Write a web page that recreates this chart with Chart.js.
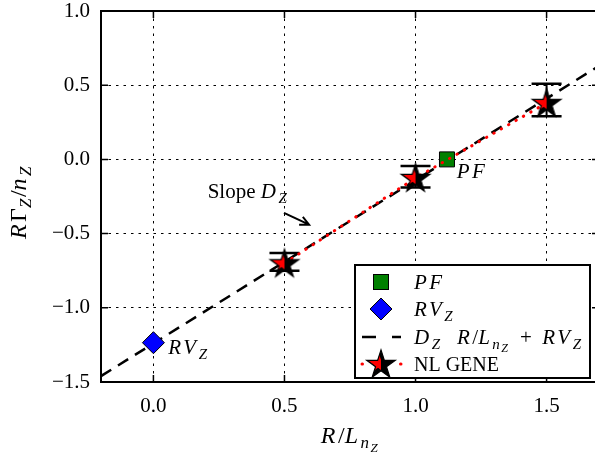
<!DOCTYPE html>
<html>
<head>
<meta charset="utf-8">
<script src="https://cdn.jsdelivr.net/npm/chart.js@4/dist/chart.umd.min.js"></script>
<style>
  html, body { margin: 0; padding: 0; overflow: hidden; background: #fff; }
  #wrap { width: 600px; height: 454px; position: relative; }
</style>
</head>
<body>
<div id="wrap"><canvas id="myChart"></canvas></div>
<script>
// axis ticks
const xTicks = [0, 0.5, 1.0, 1.5];
const yTicks = [-1.5, -1.0, -0.5, 0, 0.5, 1.0];
// D_Z R/L_nZ + RV_Z fit (read at the plot edges)
const fitX = [-0.2, 1.7];
const fitY = [-1.46, 0.63];
// NL GENE runs with error bars
const geneX = [0.5, 1.0, 1.5];
const geneY = [-0.70, -0.125, 0.38];
const geneLo = [-0.75, -0.19, 0.29];
const geneHi = [-0.63, -0.045, 0.51];
// PF and RV_Z points
const pfX = [1.12];
const pfY = [0.0];
const rvX = [0.0];
const rvY = [-1.235];

const SERIF = '"Liberation Serif", "DejaVu Serif", serif';

function makeStar(R) {
  const s = Math.ceil(R * 2 + 6);
  const c = document.createElement('canvas');
  c.width = s; c.height = s;
  const g = c.getContext('2d');
  const cx = s / 2, cy = s / 2 + 1;
  const starPath = (x0, y0, r0) => {
    const p = new Path2D();
    for (let i = 0; i < 10; i++) {
      const r = i % 2 ? r0 * 0.382 : r0;
      const a = -Math.PI / 2 + i * Math.PI / 5;
      const px = x0 + r * Math.cos(a), py = y0 + r * Math.sin(a);
      if (i) p.lineTo(px, py); else p.moveTo(px, py);
    }
    p.closePath();
    return p;
  };
  const big = starPath(cx, cy, R);
  g.fillStyle = '#000';
  g.fill(big);
  g.save();
  g.clip(big);
  g.beginPath();
  g.rect(0, 0, cx, s);
  g.clip();
  g.fillStyle = '#ff0000';
  g.fill(starPath(cx - 3, cy - 2, R * 0.82));
  g.restore();
  g.lineWidth = 1.2;
  g.strokeStyle = '#000';
  g.stroke(big);
  return c;
}
const starImg = makeStar(15);

// rich text: parts = [text, kind] kind: r roman, i italic, s italic sub, ss italic subsub
function fontFor(k, size) {
  if (k === 'r') return size + 'px ' + SERIF;
  if (k === 'i') return 'italic ' + size + 'px ' + SERIF;
  if (k === 's') return 'italic ' + Math.round(size * 0.7) + 'px ' + SERIF;
  return 'italic ' + Math.round(size * 0.55) + 'px ' + SERIF;
}
function spacingFor(k) {
  return k === 'r' ? '0px' : (k === 'i' ? '2.5px' : '1.5px');
}
function richWidth(ctx, parts, size) {
  let w = 0;
  for (const [t, k] of parts) {
    ctx.font = fontFor(k, size);
    ctx.letterSpacing = spacingFor(k);
    w += ctx.measureText(t).width;
  }
  return w;
}
function drawRich(ctx, parts, x, y, size, align) {
  const w = richWidth(ctx, parts, size);
  let px = align === 'center' ? x - w / 2 : x;
  ctx.textBaseline = 'alphabetic';
  ctx.textAlign = 'left';
  ctx.fillStyle = '#000';
  for (const [t, k] of parts) {
    ctx.font = fontFor(k, size);
    ctx.letterSpacing = spacingFor(k);
    const dy = k === 's' ? size * 0.22 : (k === 'ss' ? size * 0.36 : 0);
    ctx.fillText(t, px, y + dy);
    px += ctx.measureText(t).width;
  }
  ctx.letterSpacing = '0px';
}

function fmt(v) {
  return (v < 0 ? '\u2212' : '') + Math.abs(v).toFixed(1);
}

const deco = {
  id: 'deco',
  beforeDatasetsDraw(chart) {
    const ctx = chart.ctx, xs = chart.scales.x, ys = chart.scales.y;
    ctx.save();
    ctx.strokeStyle = '#000';
    for (let i = 0; i < geneX.length; i++) {
      const px = xs.getPixelForValue(geneX[i]);
      const lo = ys.getPixelForValue(geneLo[i]);
      const hi = ys.getPixelForValue(geneHi[i]);
      ctx.lineWidth = 2;
      ctx.beginPath();
      ctx.moveTo(px, lo); ctx.lineTo(px, hi);
      ctx.stroke();
      ctx.lineWidth = 2.5;
      ctx.beginPath();
      ctx.moveTo(px - 15, lo); ctx.lineTo(px + 15, lo);
      ctx.moveTo(px - 15, hi); ctx.lineTo(px + 15, hi);
      ctx.stroke();
    }
    ctx.restore();
  },
  afterDraw(chart) {
    const ctx = chart.ctx, a = chart.chartArea;
    const xs = chart.scales.x, ys = chart.scales.y;
    ctx.save();
    // inward ticks
    ctx.strokeStyle = '#000';
    ctx.lineWidth = 1.5;
    ctx.beginPath();
    for (const v of xTicks) {
      const px = xs.getPixelForValue(v);
      ctx.moveTo(px, a.bottom); ctx.lineTo(px, a.bottom - 7);
      ctx.moveTo(px, a.top); ctx.lineTo(px, a.top + 7);
    }
    for (const v of yTicks) {
      const py = ys.getPixelForValue(v);
      ctx.moveTo(a.left, py); ctx.lineTo(a.left + 7, py);
      ctx.moveTo(a.right, py); ctx.lineTo(a.right - 7, py);
    }
    ctx.stroke();

    // point labels and annotation
    drawRich(ctx, [['PF', 'i']], xs.getPixelForValue(1.157), ys.getPixelForValue(-0.127), 21, 'left');
    drawRich(ctx, [['RV', 'i'], ['Z', 's']], xs.getPixelForValue(0.057), ys.getPixelForValue(-1.313), 21, 'left');
    drawRich(ctx, [['Slope ', 'r'], ['D', 'i'], ['Z', 's']], xs.getPixelForValue(0.207), ys.getPixelForValue(-0.26), 21, 'left');
    const ax0 = xs.getPixelForValue(0.498), ay0 = ys.getPixelForValue(-0.36);
    const ax1 = xs.getPixelForValue(0.594), ay1 = ys.getPixelForValue(-0.44);
    const ang = Math.atan2(ay1 - ay0, ax1 - ax0);
    ctx.lineWidth = 2;
    ctx.beginPath();
    ctx.moveTo(ax0, ay0); ctx.lineTo(ax1, ay1);
    ctx.moveTo(ax1 - 10 * Math.cos(ang - 0.45), ay1 - 10 * Math.sin(ang - 0.45));
    ctx.lineTo(ax1, ay1);
    ctx.lineTo(ax1 - 10 * Math.cos(ang + 0.45), ay1 - 10 * Math.sin(ang + 0.45));
    ctx.stroke();

    // legend box
    const L = { x: 355, y: 265, w: 235, h: 113 };
    ctx.fillStyle = '#fff';
    ctx.fillRect(L.x, L.y, L.w, L.h);
    ctx.lineWidth = 2;
    ctx.strokeRect(L.x, L.y, L.w, L.h);
    const mx = 381, tx = 414;
    const rows = [282, 309, 337, 364];
    ctx.fillStyle = '#008000';
    ctx.fillRect(mx - 7.5, rows[0] - 7.5, 15, 15);
    ctx.lineWidth = 1;
    ctx.strokeRect(mx - 7.5, rows[0] - 7.5, 15, 15);
    ctx.beginPath();
    ctx.moveTo(mx, rows[1] - 11); ctx.lineTo(mx + 11, rows[1]);
    ctx.lineTo(mx, rows[1] + 11); ctx.lineTo(mx - 11, rows[1]);
    ctx.closePath();
    ctx.fillStyle = '#0000ff';
    ctx.fill(); ctx.stroke();
    ctx.lineWidth = 2.5;
    ctx.setLineDash([14, 16]);
    ctx.beginPath();
    ctx.moveTo(362, rows[2]); ctx.lineTo(401, rows[2]);
    ctx.stroke();
    ctx.strokeStyle = '#ff0000';
    ctx.lineWidth = 3;
    ctx.lineCap = 'round';
    ctx.setLineDash([0.5, 38]);
    ctx.beginPath();
    ctx.moveTo(362, rows[3]); ctx.lineTo(401, rows[3]);
    ctx.stroke();
    ctx.setLineDash([]);
    ctx.lineCap = 'butt';
    ctx.drawImage(starImg, mx - starImg.width / 2, rows[3] - starImg.height / 2);
    drawRich(ctx, [['PF', 'i']], tx, rows[0] + 7, 21, 'left');
    drawRich(ctx, [['RV', 'i'], ['Z', 's']], tx, rows[1] + 7, 21, 'left');
    drawRich(ctx, [['D', 'i'], ['Z', 's'], ['  R', 'i'], ['/', 'r'], ['L', 'i'], ['n', 's'], ['Z', 'ss'], ['  +  ', 'r'], ['RV', 'i'], ['Z', 's']], tx, rows[2] + 7, 21, 'left');
    drawRich(ctx, [['NL GENE', 'r']], tx, rows[3] + 7, 20, 'left');

    // frame
    ctx.strokeStyle = '#000';
    ctx.lineWidth = 2;
    ctx.strokeRect(a.left, a.top, a.right - a.left, a.bottom - a.top);

    // axis titles
    drawRich(ctx, [['R', 'i'], ['/', 'r'], ['L', 'i'], ['n', 's'], ['Z', 'ss']], (a.left + a.right) / 2, 443, 24, 'center');
    ctx.translate(26, 202);
    ctx.rotate(-Math.PI / 2);
    drawRich(ctx, [['R', 'i'], ['\u0393', 'r'], ['Z', 's'], ['/', 'r'], ['n', 'i'], ['Z', 's']], 0, 0, 24, 'center');
    ctx.restore();
  }
};

new Chart('myChart', {
  type: 'scatter',
  data: {
    datasets: [
      {
        label: 'NL GENE',
        data: geneX.map((x, i) => ({ x: x, y: geneY[i] })),
        showLine: true,
        borderColor: '#ff0000',
        borderWidth: 3,
        borderDash: [0.5, 8],
        borderCapStyle: 'round',
        pointStyle: starImg,
        pointRadius: 15,
        order: 1
      },
      {
        label: 'PF',
        data: pfX.map((x, i) => ({ x: x, y: pfY[i] })),
        pointStyle: 'rect',
        pointRadius: 10.6,
        backgroundColor: '#008000',
        borderColor: '#000',
        borderWidth: 1,
        order: 2
      },
      {
        label: 'RV_Z',
        data: rvX.map((x, i) => ({ x: x, y: rvY[i] })),
        pointStyle: 'rectRot',
        pointRadius: 11,
        backgroundColor: '#0000ff',
        borderColor: '#000',
        borderWidth: 1,
        order: 3
      },
      {
        label: 'fit',
        data: fitX.map((x, i) => ({ x: x, y: fitY[i] })),
        showLine: true,
        borderColor: '#000',
        borderWidth: 2.5,
        borderDash: [12, 8],
        pointRadius: 0,
        order: 4
      }
    ]
  },
  options: {
    responsive: true,
    maintainAspectRatio: false,
    animation: false,
    layout: { autoPadding: false, padding: { left: 0, right: 1, top: 11, bottom: 0 } },
    plugins: { legend: { display: false }, tooltip: { enabled: false } },
    scales: {
      x: {
        type: 'linear',
        min: -0.2,
        max: 1.7,
        afterBuildTicks: s => { s.ticks = xTicks.map(v => ({ value: v })); },
        afterFit: s => { s.height = 72; s.paddingLeft = 0; s.paddingRight = 0; },
        grid: { color: '#000', lineWidth: 1, drawTicks: false },
        border: { display: false, dash: [2.5, 5] },
        ticks: { padding: 12, color: '#000', font: { family: SERIF, size: 21 }, callback: v => fmt(v) }
      },
      y: {
        type: 'linear',
        min: -1.5,
        max: 1.0,
        afterBuildTicks: s => { s.ticks = yTicks.map(v => ({ value: v })); },
        afterFit: s => { s.width = 101; s.paddingTop = 0; s.paddingBottom = 0; },
        grid: { color: '#000', lineWidth: 1, drawTicks: false },
        border: { display: false, dash: [2.5, 5] },
        ticks: { padding: 11, color: '#000', font: { family: SERIF, size: 21 }, callback: v => fmt(v) }
      }
    }
  },
  plugins: [deco]
});
</script>
</body>
</html>
